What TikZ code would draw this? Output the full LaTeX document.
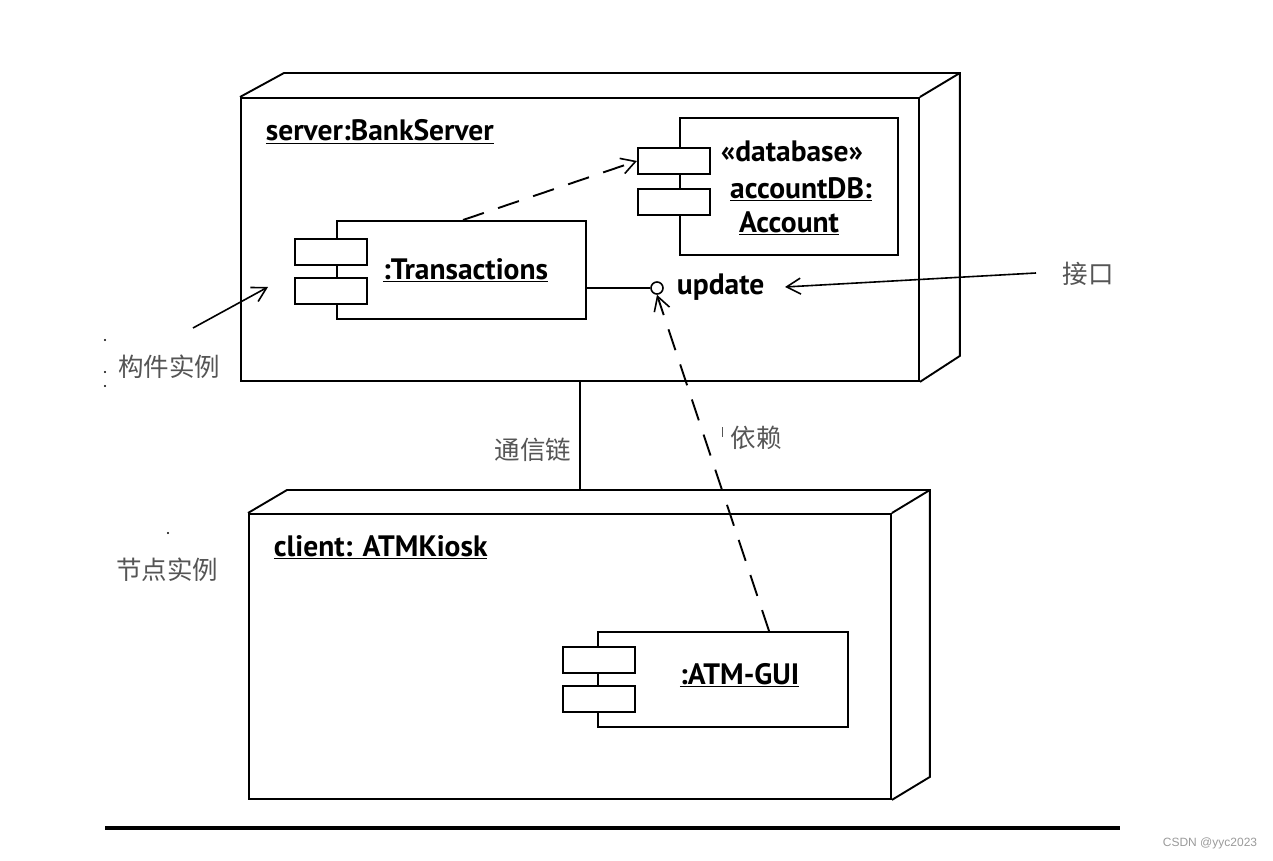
\documentclass[tikz,border=0pt]{standalone}
\usepackage{fontspec}
\setmainfont{PT Sans}
\newfontfamily\cjk{Noto Sans CJK SC}
\newfontfamily\wmfont{Liberation Sans}
\usetikzlibrary{arrows.meta}
\definecolor{labelgray}{HTML}{555555}
\definecolor{wmgray}{HTML}{9A9A9A}
\newcommand{\ul}[1]{\underline{#1}}
\begin{document}
\begin{tikzpicture}[x=1pt,y=-1pt,line width=1.9pt,
  face/.style={draw, inner sep=0pt, anchor=north west},
  body/.style={draw, inner sep=0pt, anchor=north west},
  port/.style={draw, fill=white, inner sep=0pt, anchor=north west, minimum width=72pt, minimum height=26pt},
  uml/.style={font=\bfseries\fontsize{29.5}{32}\selectfont, inner sep=0pt},
  note/.style={font=\cjk\fontsize{25.5}{28}\selectfont, text=labelgray, inner sep=0pt},
  depend/.style={dash pattern=on 22pt off 15pt, -{Straight Barb[length=14pt,width=16pt,line width=1.6pt]}},
  pointer/.style={line width=1.6pt, -{Straight Barb[length=14pt,width=16pt,line width=1.6pt]}}]
\useasboundingbox (0,0) rectangle (1273,861);

% ---- server node ----
\node[face, minimum width=678pt, minimum height=283pt] (sv) at (240,97) {};
\draw (sv.north west) -- ([shift={(44,-24)}]sv.north west)
      -- ([shift={(40,-24)}]sv.north east) -- ([shift={(40,-26)}]sv.south east) -- (sv.south east);
\draw (sv.north east) -- ([shift={(40,-24)}]sv.north east);
\node[uml, anchor=base west] (svlab) at (265,141) {\ul{server:BankServer}};

% ---- client node ----
\node[face, minimum width=642pt, minimum height=285pt] (cl) at (248,513) {};
\draw (cl.north west) -- ([shift={(39,-23)}]cl.north west)
      -- ([shift={(38,-23)}]cl.north east) -- ([shift={(38,-23)}]cl.south east) -- (cl.south east);
\draw (cl.north east) -- ([shift={(38,-23)}]cl.north east);
\node[uml, anchor=base west] (cllab) at (273,556) {\ul{client: ATMKiosk}};

% ---- :Transactions component ----
\node[body, minimum width=249pt, minimum height=98pt] (tr) at (336,220) {};
\node[port] (trp1) at (294,238) {};
\node[port] (trp2) at (294,277) {};
\node[uml, anchor=base west] (trlab) at (382,279) {\ul{:Transactions}};

% ---- accountDB component ----
\node[body, minimum width=218pt, minimum height=137pt] (db) at (679,117) {};
\node[port] (dbp1) at (637,147) {};
\node[port] (dbp2) at (637,188) {};
\node[uml, anchor=base] (dblab1) at (792,161) {«database»};
\node[uml, anchor=base] (dblab2) at (801,198) {\ul{accountDB:}};
\node[uml, anchor=base] (dblab3) at (789,232) {\ul{Account}};

% ---- :ATM-GUI component ----
\node[body, minimum width=250pt, minimum height=95pt] (gui) at (597,631) {};
\node[port] (guip1) at (562,646) {};
\node[port] (guip2) at (562,685) {};
\node[uml, anchor=base west] (guilab) at (679,684) {\ul{:ATM-GUI}};

% ---- interface ----
\node[draw, circle, minimum size=12pt, inner sep=0pt, line width=1.6pt] (upd) at (657,288) {};
\node[uml, anchor=base west] (updlab) at (676,294) {update};
\draw[line width=1.6pt] (tr.east |- upd) -- (upd.west);

% ---- dependencies ----
\coordinate (trtop) at (463,220);
\coordinate (guitop) at (769,631);
\draw[depend] (trtop) -- (dbp1.west);
\draw[depend] (guitop) -- (upd.south);

% ---- communication link ----
\coordinate (linktop) at (580,380);
\coordinate (linkbot) at (580,490);
\draw (linktop) -- (linkbot);

% ---- annotations ----
\node[note] (lbcomp) at (169,367) {构件实例};
\node[note] (lbiface) at (1088,274) {接口};
\node[note] (lblink) at (533,450) {通信链};
\node[note] (lbdep) at (756,438) {依赖};
\node[note] (lbnode) at (167,570) {节点实例};
\coordinate (compfrom) at (193,328);
\coordinate (comptip) at (268,287);
\draw[pointer] (compfrom) -- (comptip);
\coordinate (ifacefrom) at (1036,273);
\coordinate (ifacetip) at (785,287);
\draw[pointer] (ifacefrom) -- (ifacetip);

% stray specks
\fill (105,340) circle (1.1pt);
\fill (105,372) circle (1.1pt);
\fill (105,386) circle (1.1pt);
\fill (168,533) circle (1.1pt);
\draw[line width=1pt, labelgray] (722,427) -- (722,437);

% ---- bottom rule and watermark ----
\coordinate (rulel) at (105,828);
\coordinate (ruler) at (1120,828);
\draw[line width=4pt] (rulel) -- (ruler);
\node[font=\wmfont\fontsize{12}{14}\selectfont, text=wmgray, inner sep=0pt] (wm) at (1210,843) {CSDN @yyc2023};
\end{tikzpicture}
\end{document}
